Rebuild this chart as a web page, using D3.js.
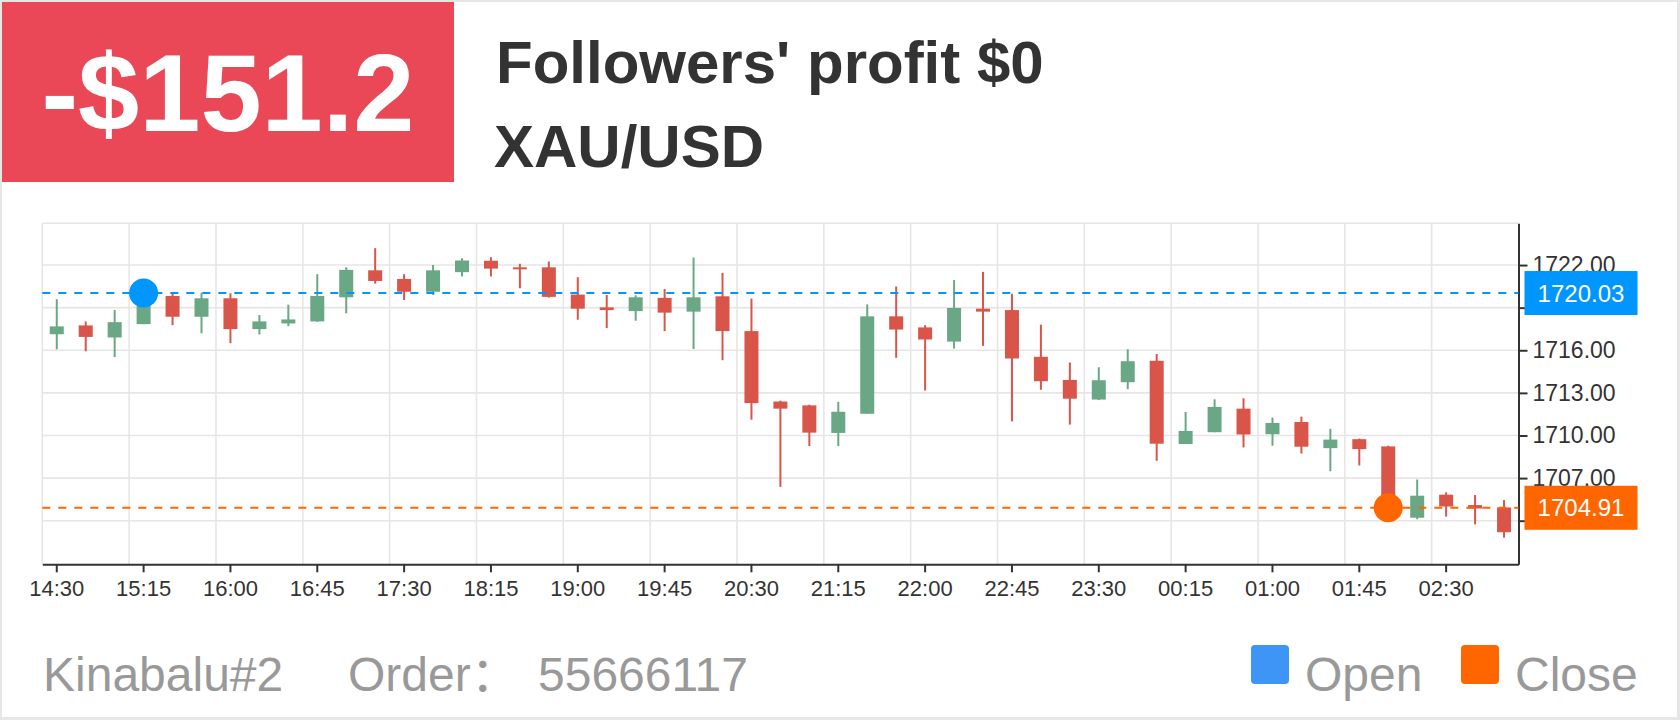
<!DOCTYPE html>
<html>
<head>
<meta charset="utf-8">
<script src="https://cdn.jsdelivr.net/npm/d3@7/dist/d3.min.js"></script>
<style>
  html, body { margin: 0; padding: 0; background: #e6e6e6; }
  svg { display: block; }
  text { font-family: "Liberation Sans", Arial, "Noto Sans CJK SC", sans-serif; }
</style>
</head>
<body>
<svg id="chart" width="1680" height="720"></svg>
<script>
// ---------- data ----------
const times = ["14:30","14:45","15:00","15:15","15:30","15:45","16:00","16:15","16:30","16:45",
  "17:00","17:15","17:30","17:45","18:00","18:15","18:30","18:45","19:00","19:15",
  "19:30","19:45","20:00","20:15","20:30","20:45","21:00","21:15","21:30","21:45",
  "22:00","22:15","22:30","22:45","23:00","23:15","23:30","23:45","00:00","00:15",
  "00:30","00:45","01:00","01:15","01:30","01:45","02:00","02:15","02:30","02:45","03:00"];
const openV  = [1717.13,1717.75,1716.90,1717.84,1719.82,1718.36,1719.66,1717.49,1717.89,1718.03,
  1719.73,1721.63,1721.02,1720.12,1721.50,1722.30,1721.84,1721.84,1719.92,1719.02,
  1718.76,1719.69,1718.72,1719.80,1717.35,1712.39,1712.12,1710.18,1711.53,1718.39,
  1717.61,1716.61,1718.93,1718.83,1715.54,1713.91,1712.53,1713.75,1715.26,1709.40,
  1710.23,1711.89,1710.09,1710.95,1709.11,1709.74,1709.23,1704.21,1705.83,1705.10,1704.93];
const closeV = [1717.68,1716.94,1717.98,1719.15,1718.36,1719.66,1717.49,1718.03,1718.17,1719.82,
  1721.66,1720.88,1720.12,1721.63,1722.32,1721.75,1721.73,1719.76,1718.93,1718.83,
  1719.73,1718.65,1719.73,1717.35,1712.28,1711.89,1710.20,1711.67,1718.39,1717.46,
  1716.76,1718.98,1718.72,1715.42,1713.82,1712.59,1713.89,1715.23,1709.42,1710.32,
  1712.01,1710.07,1710.88,1709.21,1709.71,1709.04,1704.95,1705.76,1705.00,1704.86,1703.19];
const highV  = [1719.60,1718.03,1718.83,1720.20,1720.05,1720.05,1720.01,1718.48,1719.21,1721.36,
  1721.84,1723.19,1721.36,1722.00,1722.48,1722.55,1722.09,1722.25,1721.15,1719.89,
  1719.87,1720.31,1722.53,1721.45,1719.64,1712.45,1712.17,1712.37,1719.23,1720.49,
  1717.77,1720.95,1721.52,1719.98,1717.80,1715.14,1714.80,1716.07,1715.74,1711.65,
  1712.55,1712.62,1711.26,1711.33,1710.47,1709.78,1709.28,1706.90,1706.00,1705.81,1705.45];
const lowV   = [1716.07,1715.93,1715.52,1717.84,1717.77,1717.20,1716.50,1717.11,1717.70,1718.01,
  1718.60,1720.69,1719.53,1719.89,1721.20,1721.20,1720.37,1719.71,1718.15,1717.56,
  1718.08,1717.35,1716.09,1715.30,1711.11,1706.38,1709.26,1709.26,1711.53,1715.47,
  1713.17,1716.12,1716.31,1710.99,1713.22,1710.77,1712.50,1713.26,1708.22,1709.40,
  1710.23,1709.16,1709.28,1708.73,1707.48,1707.89,1704.80,1704.10,1704.29,1703.74,1702.81];
const xTickLabels = ["14:30","15:15","16:00","16:45","17:30","18:15","19:00","19:45","20:30",
  "21:15","22:00","22:45","23:30","00:15","01:00","01:45","02:30"];
const yTickValues = [1704, 1707, 1710, 1713, 1716, 1719, 1722];
const yDomain = [1700.93, 1724.94];
const openPrice = 1720.03, closePrice = 1704.91;
const openTime = "15:15", closeTime = "02:00";
const profitText = "-$151.2";
const titleText = "Followers' profit $0";
const symbolText = "XAU/USD";
const accountText = "Kinabalu#2";
const orderLabel = "Order：";
const orderNo = "55666117";
const legendItems = ["Open", "Close"];

// ---------- drawing ----------
const svg = d3.select("#chart");
const W = 1680, H = 720;
const UP = "#6aa784", DOWN = "#d9554a";
const BLUE = "#0096ff", ORANGE = "#ff6600";

svg.append("rect").attr("x", 0).attr("y", 0).attr("width", W).attr("height", H).attr("fill", "#e6e6e6");
svg.append("rect").attr("x", 2).attr("y", 2).attr("width", 1675).attr("height", 715).attr("fill", "#fff");

// header
svg.append("rect").attr("x", 2).attr("y", 2).attr("width", 452).attr("height", 180).attr("fill", "#ea4757");
svg.append("text").attr("x", 228).attr("y", 131).attr("text-anchor", "middle")
  .attr("font-size", 110).attr("font-weight", "bold").attr("fill", "#fff").text(profitText);
svg.append("text").attr("x", 496).attr("y", 83)
  .attr("font-size", 60).attr("font-weight", "bold").attr("fill", "#333").text(titleText);
svg.append("text").attr("x", 494).attr("y", 167)
  .attr("font-size", 60).attr("font-weight", "bold").attr("fill", "#333").text(symbolText);

// scales
const x = d3.scaleBand().domain(times).range([42.3, 1518.5]).padding(0);
const y = d3.scaleLinear().domain(yDomain).range([564.3, 223.3]);
const bw = x.bandwidth();
const cx = t => x(t) + bw / 2;

const g = svg.append("g");

// grid
const grid = g.append("g").attr("stroke", "#e6e6e6").attr("stroke-width", 1.6);
grid.selectAll("line.h").data(yTickValues.concat([yDomain[1]])).enter().append("line")
  .attr("x1", x.range()[0]).attr("x2", x.range()[1])
  .attr("y1", d => y(d)).attr("y2", d => y(d));
grid.selectAll("line.v").data(xTickLabels).enter().append("line")
  .attr("x1", d => x(d) ).attr("x2", d => x(d))
  .attr("y1", y.range()[1]).attr("y2", y.range()[0]);

const marks = [
  { v: openPrice, t: openTime, color: BLUE },
  { v: closePrice, t: closeTime, color: ORANGE }
];
const labelH = 44;
// tick labels that sit under a mark label box are hidden, as in the reference
const hiddenByMark = d => marks.some(m => Math.abs(y(d) - y(m.v)) < labelH / 2 - 4);

// bottom axis
const xAxis = d3.axisBottom(x).tickValues(xTickLabels).tickSize(8).tickPadding(8).tickSizeOuter(0);
const xg = g.append("g").attr("transform", `translate(0,${y.range()[0]})`).call(xAxis);
xg.select(".domain").attr("stroke", "#333").attr("stroke-width", 2);
xg.selectAll(".tick line").attr("stroke", "#333").attr("stroke-width", 2);
xg.selectAll(".tick text").attr("font-size", 22).attr("fill", "#333")
  .attr("font-family", "'Liberation Sans', Arial, sans-serif");

// right axis
const yAxis = d3.axisRight(y).tickValues(yTickValues)
  .tickFormat(d => hiddenByMark(d) ? "" : d3.format(".2f")(d))
  .tickSize(9).tickPadding(5).tickSizeOuter(0);
const yg = g.append("g").attr("transform", `translate(${x.range()[1]},0)`).call(yAxis);
yg.select(".domain").attr("stroke", "#333").attr("stroke-width", 2);
yg.selectAll(".tick line").attr("stroke", "#333").attr("stroke-width", 2);
yg.selectAll(".tick text").attr("font-size", 23).attr("fill", "#333")
  .attr("font-family", "'Liberation Sans', Arial, sans-serif");

// candles
const candles = times.map((t, i) => ({ t, o: openV[i], c: closeV[i], h: highV[i], l: lowV[i] }));
const cg = g.append("g");
cg.selectAll("line.wick").data(candles).enter().append("line")
  .attr("x1", d => cx(d.t)).attr("x2", d => cx(d.t))
  .attr("y1", d => y(d.h)).attr("y2", d => y(d.l))
  .attr("stroke", d => d.c >= d.o ? UP : DOWN).attr("stroke-width", 2);
const bodyW = 14;
cg.selectAll("rect.body").data(candles).enter().append("rect")
  .attr("x", d => cx(d.t) - bodyW / 2).attr("width", bodyW)
  .attr("y", d => y(Math.max(d.o, d.c)))
  .attr("height", d => Math.max(2, Math.abs(y(d.o) - y(d.c))))
  .attr("fill", d => d.c >= d.o ? UP : DOWN);

// mark lines
const mg = g.append("g");
mg.selectAll("line.mark").data(marks).enter().append("line")
  .attr("x1", x.range()[0]).attr("x2", x.range()[1])
  .attr("y1", d => y(d.v)).attr("y2", d => y(d.v))
  .attr("stroke", d => d.color).attr("stroke-width", 2).attr("stroke-dasharray", "8,8");
mg.selectAll("circle.mark").data(marks).enter().append("circle")
  .attr("cx", d => cx(d.t)).attr("cy", d => y(d.v)).attr("r", 14.5)
  .attr("fill", d => d.color);
mg.selectAll("rect.lab").data(marks).enter().append("rect")
  .attr("x", x.range()[1] + 6).attr("y", d => y(d.v) - labelH / 2)
  .attr("width", 113).attr("height", labelH).attr("fill", d => d.color);
mg.selectAll("text.lab").data(marks).enter().append("text")
  .attr("x", x.range()[1] + 6 + 56.5).attr("y", d => y(d.v) + 8.5)
  .attr("text-anchor", "middle").attr("font-size", 24).attr("fill", "#fff")
  .text(d => d3.format(".2f")(d.v));

// footer
const fy = 691;
svg.append("text").attr("x", 43).attr("y", fy).attr("font-size", 48).attr("fill", "#999").text(accountText);
svg.append("text").attr("x", 348).attr("y", fy).attr("font-size", 48).attr("fill", "#999").text(orderLabel);
svg.append("text").attr("x", 538).attr("y", fy).attr("font-size", 48).attr("fill", "#999").text(orderNo);

const legendColors = ["#3f95f5", ORANGE];
const legendX = [1251, 1461];
legendItems.forEach((name, i) => {
  svg.append("rect").attr("x", legendX[i]).attr("y", 645).attr("width", 38).attr("height", 39)
    .attr("rx", 4).attr("fill", legendColors[i]);
  svg.append("text").attr("x", legendX[i] + 54).attr("y", fy).attr("font-size", 48).attr("fill", "#999").text(name);
});
</script>
</body>
</html>
